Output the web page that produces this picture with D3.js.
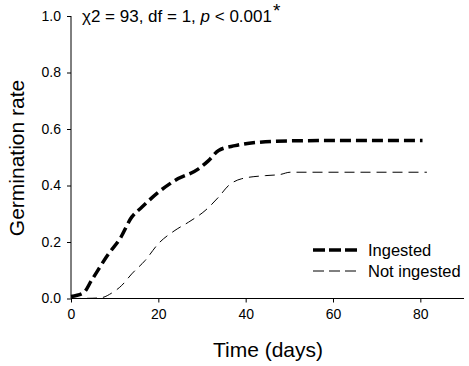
<!DOCTYPE html>
<html>
<head>
<meta charset="utf-8">
<script src="https://cdn.jsdelivr.net/npm/d3@7"></script>
<style>
  body { margin: 0; background: #fff; }
  svg { display: block; font-family: Arial, "Liberation Sans", sans-serif; }
</style>
</head>
<body>
<div id="chart"></div>
<script>
const ingestedDays  = [0, 2.8, 4.7, 8.6, 11.2, 13.9, 16.2, 20, 23.8, 29.2, 31.5, 33.8, 37.6, 42.9, 50, 60, 70, 80.5];
const ingestedRate  = [0.007, 0.019, 0.064, 0.158, 0.211, 0.288, 0.323, 0.376, 0.418, 0.459, 0.488, 0.524, 0.541, 0.553, 0.558, 0.559, 0.559, 0.559];
const notIngDays    = [0, 5, 7, 9.3, 11.6, 13.9, 17, 20, 23.8, 26.9, 30.7, 33.8, 36.1, 39.1, 44.5, 47.9, 50.2, 60, 70, 81.5];
const notIngRate    = [0, 0.001, 0.003, 0.019, 0.046, 0.087, 0.135, 0.194, 0.241, 0.27, 0.311, 0.359, 0.4, 0.424, 0.435, 0.439, 0.447, 0.447, 0.447, 0.447];
const xTicks = [0, 20, 40, 60, 80];
const yTicks = [0, 0.2, 0.4, 0.6, 0.8, 1.0];

const W = 469, H = 366;
const svg = d3.select('#chart').append('svg').attr('width', W).attr('height', H);

const x = d3.scaleLinear().domain([0, 90]).range([71, 464]);
const y = d3.scaleLinear().domain([0, 1]).range([298.5, 16]);

// axes
const xAxis = d3.axisBottom(x).tickValues(xTicks).tickSize(4).tickPadding(7).tickFormat(d3.format('d'));
const yAxis = d3.axisLeft(y).tickValues(yTicks).tickSize(4).tickPadding(6).tickFormat(d3.format('.1f'));

svg.append('g').attr('transform', `translate(0,${y(0)})`).call(xAxis)
  .call(g => g.select('.domain').attr('d', `M${x(0)},0H${x(90)}`))
  .call(g => g.selectAll('text').style('font-size', '14px').attr('fill', '#000'));
svg.append('g').attr('transform', `translate(${x(0)},0)`).call(yAxis)
  .call(g => g.select('.domain').attr('d', `M0,${y(0)}V${y(1)}`))
  .call(g => g.selectAll('text').style('font-size', '14px').attr('fill', '#000'));
svg.selectAll('.domain, .tick line').attr('stroke', '#000').attr('stroke-width', 1);

// axis titles
svg.append('text').attr('x', 268).attr('y', 357).attr('text-anchor', 'middle')
  .style('font-size', '21px').text('Time (days)');
svg.append('text').attr('transform', 'translate(24,158) rotate(-90)').attr('text-anchor', 'middle')
  .style('font-size', '21px').text('Germination rate');

// stat text
const stat = svg.append('text').attr('x', 82).attr('y', 22).style('font-size', '17px');
stat.append('tspan').text('χ2 = 93, df = 1, ');
stat.append('tspan').style('font-style', 'italic').text('p');
stat.append('tspan').text(' < 0.001');
stat.append('tspan').attr('dx', 1).attr('dy', -5).style('font-size', '19px').text('*');

// lines
const line = d3.line().x(d => x(d[0])).y(d => y(d[1])).curve(d3.curveMonotoneX);
svg.append('path').datum(ingestedDays.map((d, i) => [d, ingestedRate[i]]))
  .attr('d', line).attr('fill', 'none').attr('stroke', '#000')
  .attr('stroke-width', 3.5).attr('stroke-dasharray', '11,5');
svg.append('path').datum(notIngDays.map((d, i) => [d, notIngRate[i]]))
  .attr('d', line).attr('fill', 'none').attr('stroke', '#000')
  .attr('stroke-width', 1).attr('stroke-dasharray', '10,6');

// legend
const legend = svg.append('g');
legend.append('line').attr('x1', 313).attr('x2', 358).attr('y1', 250).attr('y2', 250)
  .attr('stroke', '#000').attr('stroke-width', 3.5).attr('stroke-dasharray', '12,4');
legend.append('line').attr('x1', 313).attr('x2', 358).attr('y1', 271).attr('y2', 271)
  .attr('stroke', '#000').attr('stroke-width', 1).attr('stroke-dasharray', '11,5');
legend.append('text').attr('x', 368).attr('y', 256).style('font-size', '16.5px').text('Ingested');
legend.append('text').attr('x', 368).attr('y', 277).style('font-size', '16.5px').text('Not ingested');
</script>
</body>
</html>
